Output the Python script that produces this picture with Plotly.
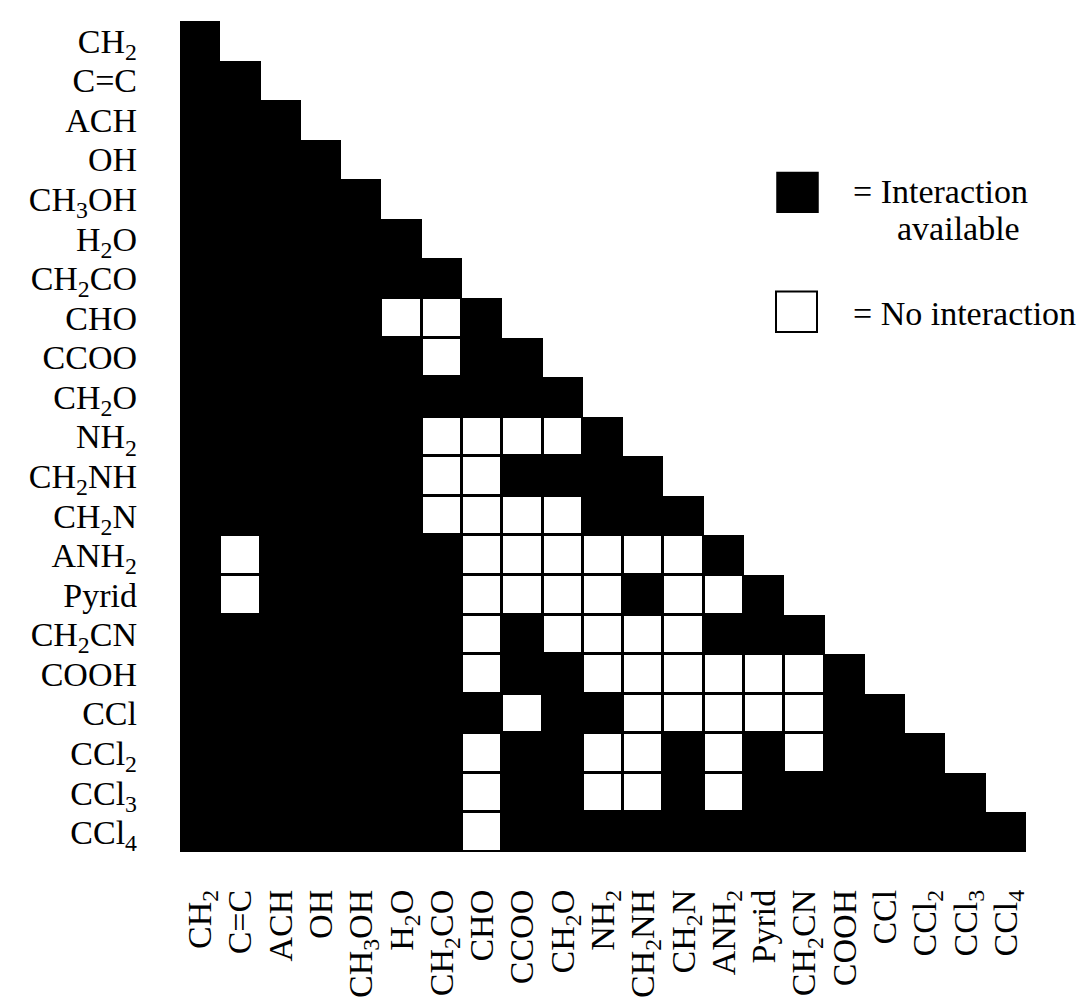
import plotly.graph_objects as go

groups = ["CH<sub>2</sub>", "C=C", "ACH", "OH", "CH<sub>3</sub>OH", "H<sub>2</sub>O",
          "CH<sub>2</sub>CO", "CHO", "CCOO", "CH<sub>2</sub>O", "NH<sub>2</sub>",
          "CH<sub>2</sub>NH", "CH<sub>2</sub>N", "ANH<sub>2</sub>", "Pyrid",
          "CH<sub>2</sub>CN", "COOH", "CCl", "CCl<sub>2</sub>", "CCl<sub>3</sub>", "CCl<sub>4</sub>"]

# 1 = interaction available, 0 = no interaction (lower triangle, row by row)
interaction = [
    [1],
    [1, 1],
    [1, 1, 1],
    [1, 1, 1, 1],
    [1, 1, 1, 1, 1],
    [1, 1, 1, 1, 1, 1],
    [1, 1, 1, 1, 1, 1, 1],
    [1, 1, 1, 1, 1, 0, 0, 1],
    [1, 1, 1, 1, 1, 1, 0, 1, 1],
    [1, 1, 1, 1, 1, 1, 1, 1, 1, 1],
    [1, 1, 1, 1, 1, 1, 0, 0, 0, 0, 1],
    [1, 1, 1, 1, 1, 1, 0, 0, 1, 1, 1, 1],
    [1, 1, 1, 1, 1, 1, 0, 0, 0, 0, 1, 1, 1],
    [1, 0, 1, 1, 1, 1, 1, 0, 0, 0, 0, 0, 0, 1],
    [1, 0, 1, 1, 1, 1, 1, 0, 0, 0, 0, 1, 0, 0, 1],
    [1, 1, 1, 1, 1, 1, 1, 0, 1, 0, 0, 0, 0, 1, 1, 1],
    [1, 1, 1, 1, 1, 1, 1, 0, 1, 1, 0, 0, 0, 0, 0, 0, 1],
    [1, 1, 1, 1, 1, 1, 1, 1, 0, 1, 1, 0, 0, 0, 0, 0, 1, 1],
    [1, 1, 1, 1, 1, 1, 1, 0, 1, 1, 0, 0, 1, 0, 1, 0, 1, 1, 1],
    [1, 1, 1, 1, 1, 1, 1, 0, 1, 1, 0, 0, 1, 0, 1, 1, 1, 1, 1, 1],
    [1, 1, 1, 1, 1, 1, 1, 0, 1, 1, 1, 1, 1, 1, 1, 1, 1, 1, 1, 1, 1],
]

legend_labels = ["= Interaction", "available", "= No interaction"]

n = len(groups)
idx = list(range(n))

# base layer: every pair in the lower triangle (black)
z_all = [[1 if j <= i else None for j in range(n)] for i in range(n)]
# top layer: pairs without interaction (white boxes with black outline via gaps)
z_none = [[1 if (j <= i and interaction[i][j] == 0) else None for j in range(n)] for i in range(n)]

FONT = "Liberation Serif, Times New Roman, serif"
L, T, W, H = 172, 13, 846, 839


def px(x):
    return (x - L) / W


def py(y):
    return (T + H - y) / H


fig = go.Figure()
fig.add_trace(go.Heatmap(z=z_all, x=idx, y=idx, colorscale=[[0, "black"], [1, "black"]],
                         showscale=False, hoverinfo="skip"))
fig.add_trace(go.Heatmap(z=z_none, x=idx, y=idx, colorscale=[[0, "white"], [1, "white"]],
                         showscale=False, xgap=3, ygap=3, hoverinfo="skip"))

# legend keys
fig.add_shape(type="rect", xref="paper", yref="paper", x0=px(769), x1=px(810), y0=py(206), y1=py(166),
              fillcolor="black", line=dict(color="black", width=1.5))
fig.add_shape(type="rect", xref="paper", yref="paper", x0=px(768), x1=px(809), y0=py(327), y1=py(286),
              fillcolor="white", line=dict(color="black", width=2))

fig.add_annotation(x=px(843), y=py(185), xref="paper", yref="paper", text=legend_labels[0],
                   showarrow=False, xanchor="left", yanchor="middle",
                   font=dict(family=FONT, size=34, color="black"))
fig.add_annotation(x=px(950), y=py(222), xref="paper", yref="paper", text=legend_labels[1],
                   showarrow=False, xanchor="center", yanchor="middle",
                   font=dict(family=FONT, size=34, color="black"))
fig.add_annotation(x=px(843), y=py(308), xref="paper", yref="paper", text=legend_labels[2],
                   showarrow=False, xanchor="left", yanchor="middle",
                   font=dict(family=FONT, size=34, color="black"))

fig.update_layout(
    width=1088, height=1002,
    margin=dict(l=L, r=1088 - L - W, t=T, b=1002 - T - H),
    paper_bgcolor="white", plot_bgcolor="white",
    font=dict(family=FONT, size=34, color="black"),
    showlegend=False,
)
fig.update_xaxes(range=[-0.5, n - 0.5], tickmode="array", tickvals=idx, ticktext=groups,
                 tickangle=-90, showgrid=False, zeroline=False, showline=False, ticks="",
                 ticklabelstandoff=30, tickfont=dict(family=FONT, size=34, color="black"))
fig.update_yaxes(range=[n - 0.5, -0.5], tickmode="array", tickvals=idx, ticktext=groups,
                 showgrid=False, zeroline=False, showline=False, ticks="",
                 ticklabelstandoff=42, tickfont=dict(family=FONT, size=34, color="black"))

fig.write_html("out.html")
